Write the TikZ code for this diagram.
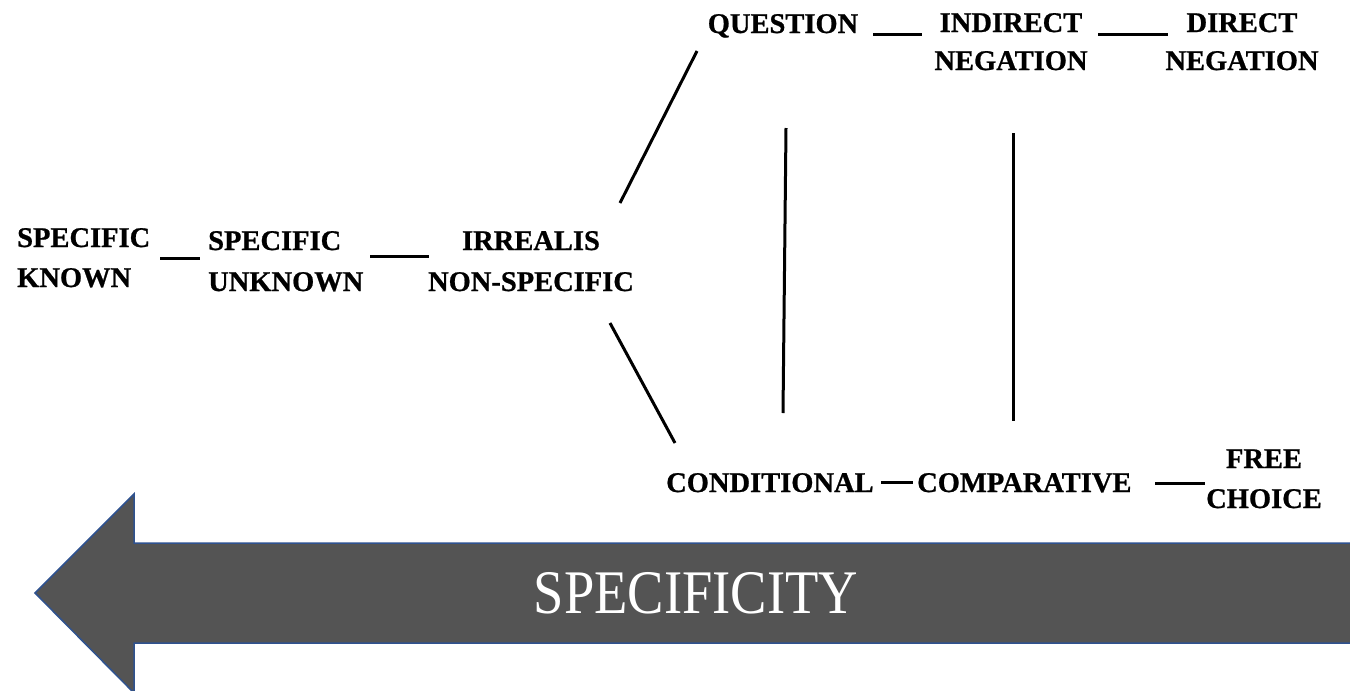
\documentclass[tikz,border=0pt]{standalone}
\usepackage{graphicx}
\usepackage{fontspec}
\setmainfont{Liberation Serif}
\newfontfamily\lblfont[FakeBold=0.8]{Liberation Serif Bold}
\definecolor{bandgray}{RGB}{84,84,84}
\definecolor{bandedge}{RGB}{47,82,143}
% two stacked lines, first baseline is the box baseline
\newcommand\stackl[3]{\begin{tabular}[t]{@{}#1@{}}#2\\#3\end{tabular}}
\begin{document}
\begin{tikzpicture}[x=1pt,y=-1pt,
  lbl/.style={inner sep=0pt, font=\fontsize{28.5}{#1}\selectfont\lblfont},
  lbl/.default=40,
  link/.style={line width=3pt, line cap=butt},
  band/.style={fill=bandgray, draw=bandedge, line width=1.5pt, line join=miter}]
\useasboundingbox (0,0) rectangle (1350,691);

% the big arrow pointing left
\filldraw[band] (35,593) -- (134,494) -- (134,543) -- (1358,543)
  -- (1358,643) -- (134,643) -- (134,693) -- cycle;
\node[inner sep=0pt, anchor=base, text=white, font=\fontsize{62}{62}\selectfont]
  (spec) at (696,613) {\scalebox{0.88}[1]{SPECIFICITY}};

% labels
\node[lbl=40, anchor=base west] (known) at (17,247) {\stackl{l}{SPECIFIC}{KNOWN}};
\node[lbl=41, anchor=base west] (unknown) at (208,250) {\stackl{l}{SPECIFIC}{UNKNOWN}};
\node[lbl=41, anchor=base] (irrealis) at (531,250) {\stackl{c}{IRREALIS}{NON-SPECIFIC}};
\node[lbl, anchor=base] (question) at (783,33) {QUESTION};
\node[lbl=38, anchor=base] (indirect) at (1011,32) {\stackl{c}{INDIRECT}{NEGATION}};
\node[lbl=38, anchor=base] (direct) at (1242,32) {\stackl{c}{DIRECT}{NEGATION}};
\node[lbl, anchor=base west] (conditional) at (666,492) {CONDITIONAL};
\node[lbl, anchor=base west] (comparative) at (917,492) {COMPARATIVE};
\node[lbl=40, anchor=base] (free) at (1264,468) {\stackl{c}{FREE}{CHOICE}};

% connector end points
\coordinate (a1) at (160,258);  \coordinate (a2) at (200,258);
\coordinate (b1) at (370,256);  \coordinate (b2) at (429,256);
\coordinate (c1) at (620,203);  \coordinate (c2) at (697,51);
\coordinate (d1) at (610,323);  \coordinate (d2) at (675,443);
\coordinate (e1) at (873,34);   \coordinate (e2) at (922,34);
\coordinate (f1) at (1098,34);  \coordinate (f2) at (1168,34);
\coordinate (g1) at (786,128);  \coordinate (g2) at (783,413);
\coordinate (h1) at (1013,133); \coordinate (h2) at (1013,421);
\coordinate (i1) at (881,482);  \coordinate (i2) at (913,482);
\coordinate (j1) at (1155,483); \coordinate (j2) at (1205,483);

% connectors
\draw[link] (a1) -- (a2);
\draw[link] (b1) -- (b2);
\draw[link] (c1) -- (c2);
\draw[link] (d1) -- (d2);
\draw[link] (e1) -- (e2);
\draw[link] (f1) -- (f2);
\draw[link] (g1) -- (g2);
\draw[link] (h1) -- (h2);
\draw[link] (i1) -- (i2);
\draw[link] (j1) -- (j2);
\end{tikzpicture}
\end{document}
